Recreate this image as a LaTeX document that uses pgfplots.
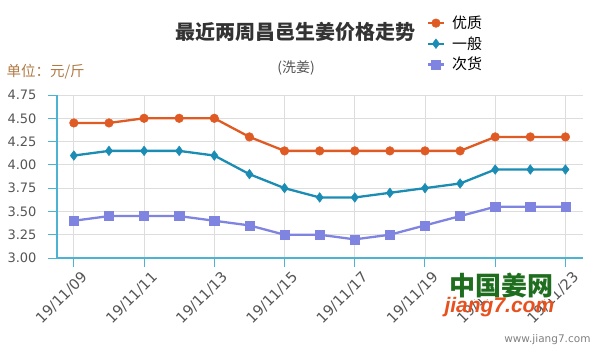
\documentclass[border=0pt]{standalone}
\usepackage{pgfplots}
\pgfplotsset{compat=1.18}
\usepackage{fontspec}
\setmainfont{Noto Sans CJK SC}
\newfontfamily\dv{DejaVu Sans}
\newfontfamily\lib{Liberation Sans}
\definecolor{c1}{HTML}{E05A24}
\definecolor{c2}{HTML}{1B8CB3}
\definecolor{c3}{HTML}{7F84E0}
\definecolor{axc}{HTML}{4DB3D3}
\definecolor{gridc}{HTML}{DDDDDD}
\definecolor{tickc}{HTML}{555555}
\definecolor{unitc}{HTML}{B07A45}
\definecolor{wmg}{HTML}{1F6E1F}
\definecolor{wmr}{HTML}{E8501E}
\begin{document}
\begin{tikzpicture}
\path (0pt,0pt) rectangle (600pt,360pt);
\node[font=\fontsize{20}{24}\selectfont\bfseries, text=black!80] at (295pt,328pt) {最近两周昌邑生姜价格走势};
\node[font=\fontsize{14}{16}\selectfont, text=tickc] at (296pt,292pt) {(洗姜)};
\node[font=\fontsize{14.5}{17}\selectfont, text=unitc, anchor=west] at (3pt,288pt) {单位：元/斤};
\begin{axis}[
  at={(57pt,102pt)}, anchor=south west, scale only axis,
  width=526pt, height=163pt,
  xmin=-0.48, xmax=14.5, ymin=3, ymax=4.75,
  axis x line*=bottom, axis y line*=left,
  axis line style={axc, line width=1.2pt},
  ytick={3,3.25,3.5,3.75,4,4.25,4.5,4.75},
  yticklabel style={/pgf/number format/fixed, /pgf/number format/fixed zerofill, /pgf/number format/precision=2, xshift=-8pt, font=\dv\fontsize{13}{15}\selectfont},
  xtick={0,2,4,6,8,10,12,14},
  xticklabels={19/11/09,19/11/11,19/11/13,19/11/15,19/11/17,19/11/19,19/11/21,19/11/23},
  xticklabel style={rotate=45, anchor=north east, inner sep=1pt, yshift=-6pt, xshift=3pt, font=\dv\fontsize{14.5}{16}\selectfont},
  /pgf/number format/assume math mode=true,
  tick label style={text=tickc},
  tick align=outside, major tick length=9pt,
  tick style={axc, line width=1pt},
  grid=major, grid style={gridc, line width=0.8pt},
  legend style={at={(0.697,1.51)}, anchor=north west, draw=none, fill=none,
    font=\fontsize{15}{17}\selectfont, row sep=2.5pt, legend cell align=left,
    /tikz/every odd column/.append style={column sep=5pt}},
  legend image code/.code={
    \draw[mark repeat=2,mark phase=2,#1] plot coordinates {(0pt,0pt) (8pt,0pt) (16pt,0pt)};},
  clip=false,
]
\addplot[c1, line width=2.3pt, mark=*, mark size=4.3pt, mark options={line width=0.5pt}] coordinates {
(0,4.45) (1,4.45) (2,4.5) (3,4.5) (4,4.5) (5,4.3) (6,4.15) (7,4.15) (8,4.15) (9,4.15) (10,4.15) (11,4.15) (12,4.3) (13,4.3) (14,4.3)};
\addlegendentry{优质}
\addplot[c2, line width=2.3pt, mark=diamond*, mark size=4.8pt, mark options={line width=0.5pt}] coordinates {
(0,4.1) (1,4.15) (2,4.15) (3,4.15) (4,4.1) (5,3.9) (6,3.75) (7,3.65) (8,3.65) (9,3.7) (10,3.75) (11,3.8) (12,3.95) (13,3.95) (14,3.95)};
\addlegendentry{一般}
\addplot[c3, line width=2.3pt, mark=square*, mark size=4.6pt, mark options={line width=0.5pt}] coordinates {
(0,3.4) (1,3.45) (2,3.45) (3,3.45) (4,3.4) (5,3.35) (6,3.25) (7,3.25) (8,3.2) (9,3.25) (10,3.35) (11,3.45) (12,3.55) (13,3.55) (14,3.55)};
\addlegendentry{次货}
\end{axis}
\node[font=\fontsize{26}{28}\selectfont\bfseries, text=wmg, anchor=west, fill=white, inner sep=1pt] at (448pt,75pt) {中国姜网};
\node[font=\lib\fontsize{21}{23}\selectfont\bfseries\itshape, text=wmr, anchor=west] at (441pt,53pt) {jiang7.com};
\node[font=\dv\fontsize{10.5}{12}\selectfont, text=gray, anchor=east] at (594pt,20pt) {www.jiang7.com};
\end{tikzpicture}
\end{document}
